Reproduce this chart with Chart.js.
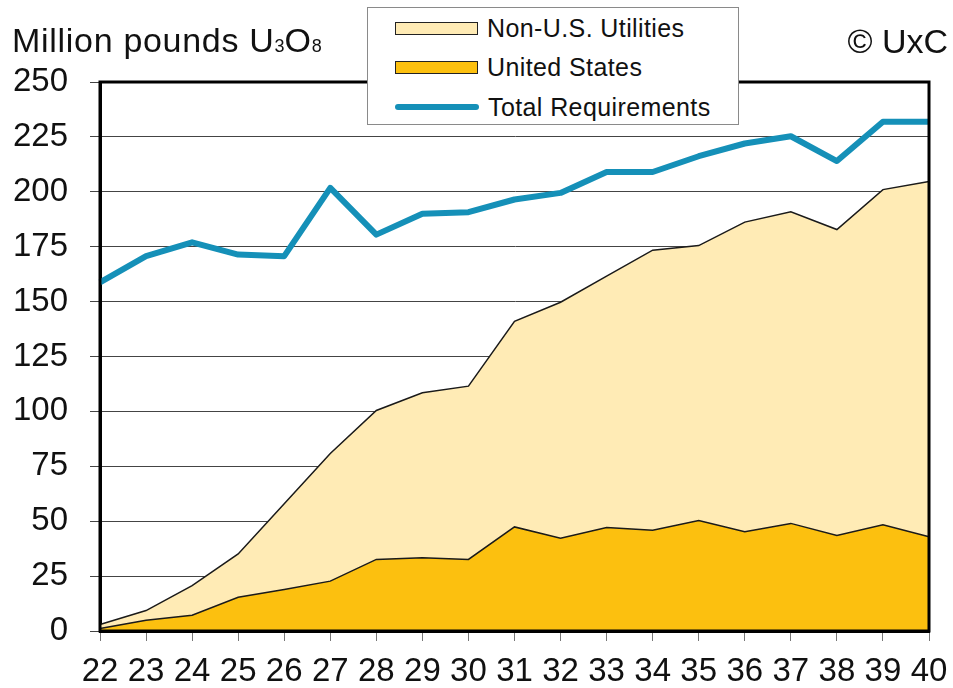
<!DOCTYPE html>
<html>
<head>
<meta charset="utf-8">
<script src="https://cdn.jsdelivr.net/npm/chart.js@4/dist/chart.umd.min.js"></script>
<style>
  body { margin: 0; background: #fff; font-family: "Liberation Sans", Arial, sans-serif; color: #111; }
  #wrap { position: relative; width: 953px; height: 688px; }
  #unit { position: absolute; left: 12px; top: 23px; font-size: 34px; line-height: 34px; letter-spacing: 0.7px; white-space: nowrap; }
  #unit .s { font-size: 18px; letter-spacing: 0; }
  #copy { position: absolute; right: 5px; top: 24px; font-size: 34px; line-height: 34px; white-space: nowrap; }
  #legend { position: absolute; left: 367px; top: 7px; width: 370px; height: 116px; border: 1.5px solid #8a8a8a; background: #fff; }
  .row { position: absolute; left: 27px; height: 20px; display: flex; align-items: center; font-size: 25px; letter-spacing: 0.4px; white-space: nowrap; }
  .sw { width: 81px; height: 11px; border: 1.5px solid #222; margin-right: 9px; }
  .ln { width: 84px; height: 6px; border-radius: 3px; margin-right: 9px; }
</style>
</head>
<body>
<div id="wrap">
  <canvas id="chartCanvas" width="953" height="688"></canvas>
  <div id="unit">Million pounds U<span class="s">3</span>O<span class="s">8</span></div>
  <div id="copy">&copy; UxC</div>
  <div id="legend">
    <div class="row" style="top:10px"><div class="sw" style="background:#FFEBB5"></div>Non-U.S. Utilities</div>
    <div class="row" style="top:49px"><div class="sw" style="background:#FCC00F"></div>United States</div>
    <div class="row" style="top:89px"><div class="ln" style="background:#1590B8"></div>Total Requirements</div>
  </div>
</div>
<script>
var years = ['22','23','24','25','26','27','28','29','30','31','32','33','34','35','36','37','38','39','40'];
var unitedStates = [1.1, 4.9, 7.2, 15.4, 18.9, 22.7, 32.6, 33.3, 32.6, 47.4, 42.3, 47.1, 45.9, 50.3, 45.2, 49.0, 43.5, 48.4, 42.9];
var nonUsUtilities = [1.9, 4.4, 13.5, 19.7, 39.1, 58.1, 67.8, 75.2, 78.9, 93.6, 107.4, 114.5, 127.5, 125.2, 141.0, 141.9, 139.3, 152.6, 161.8];
var totalRequirements = [158.8, 170.7, 177.0, 171.4, 170.7, 201.8, 180.5, 190.0, 190.7, 196.5, 199.5, 209.0, 209.0, 216.2, 222.0, 225.3, 214.0, 231.9, 231.9];
var yTicks = [0, 25, 50, 75, 100, 125, 150, 175, 200, 225, 250];

// top edge of the stacked area
var stackedTop = [];
for (var i = 0; i < unitedStates.length; i++) {
  stackedTop.push(unitedStates[i] + nonUsUtilities[i]);
}

var frame = {
  id: 'frame',
  afterDatasetsDraw: function(chart) {
    var a = chart.chartArea, ctx = chart.ctx;
    ctx.save();
    ctx.strokeStyle = '#000';
    ctx.lineWidth = 3;
    ctx.strokeRect(a.left, a.top, a.right - a.left, a.bottom - a.top);
    ctx.restore();
  }
};

function setChart() {
  var ctx = document.getElementById('chartCanvas').getContext('2d');
  new Chart(ctx, {
    type: 'line',
    data: {
      labels: years,
      datasets: [
        {
          label: 'Total Requirements',
          data: totalRequirements,
          borderColor: '#1590B8',
          borderWidth: 6,
          borderJoinStyle: 'round',
          pointRadius: 0,
          fill: false,
          tension: 0
        },
        {
          label: 'United States',
          data: unitedStates,
          borderColor: '#1a1a1a',
          borderWidth: 1.5,
          backgroundColor: '#FCC00F',
          pointRadius: 0,
          fill: 'origin',
          tension: 0
        },
        {
          label: 'Non-U.S. Utilities',
          data: stackedTop,
          borderColor: '#1a1a1a',
          borderWidth: 1.5,
          backgroundColor: '#FFEBB5',
          pointRadius: 0,
          fill: '-1',
          tension: 0
        }
      ]
    },
    options: {
      responsive: false,
      animation: false,
      layout: { padding: { left: 0, top: 82, right: 24, bottom: 0 } },
      plugins: { legend: { display: false }, tooltip: { enabled: false } },
      scales: {
        x: {
          offset: false,
          grid: { drawOnChartArea: false, drawTicks: true, tickLength: 10, color: '#777', lineWidth: 1 },
          border: { color: '#000', width: 3 },
          ticks: { color: '#111', font: { family: 'Liberation Sans', size: 33 }, padding: 11, maxRotation: 0, autoSkip: false },
          afterFit: function(s) { s.height = 57; s.paddingRight = 0; s.paddingLeft = 0; }
        },
        y: {
          min: 0,
          max: 250,
          afterBuildTicks: function(s) { s.ticks = yTicks.map(function(v) { return { value: v }; }); },
          grid: { color: '#444', lineWidth: 1, drawTicks: true, tickLength: 10 },
          border: { color: '#000', width: 3 },
          ticks: { color: '#111', font: { family: 'Liberation Sans', size: 33 }, padding: 22 },
          afterFit: function(s) { s.width = 100; }
        }
      }
    },
    plugins: [frame]
  });
}

setChart();
</script>
</body>
</html>
